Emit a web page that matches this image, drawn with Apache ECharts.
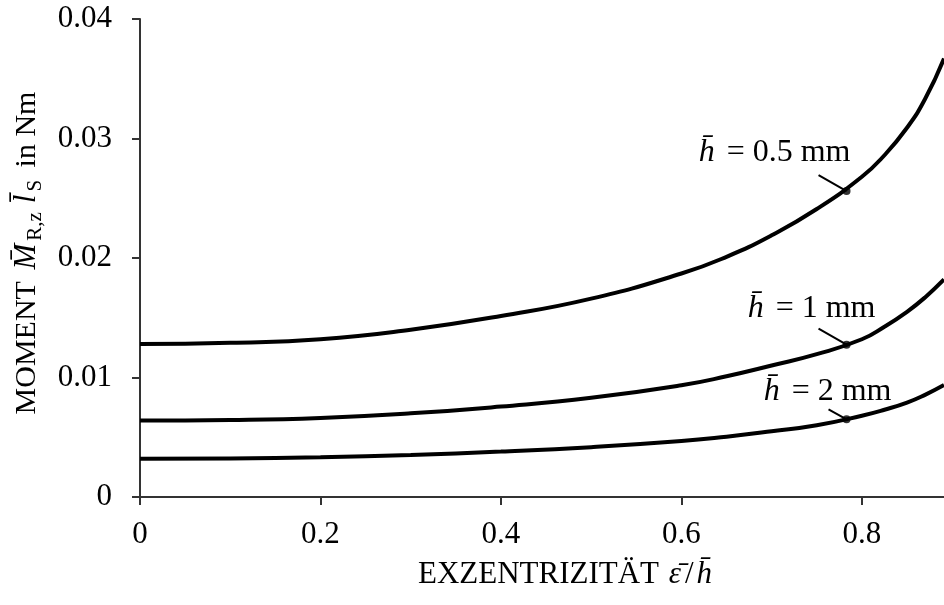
<!DOCTYPE html>
<html>
<head>
<meta charset="utf-8">
<script src="https://cdn.jsdelivr.net/npm/echarts@6/dist/echarts.min.js"></script>
<style>
  html, body { margin: 0; padding: 0; background: #fff; }
  #chart { width: 944px; height: 605px; }
</style>
</head>
<body>
<div id="chart"></div>
<script>
// Exzentrizität eps/h (x values)
const eps = [0, 0.1, 0.2, 0.3, 0.4, 0.5, 0.6, 0.65, 0.7, 0.75, 0.8, 0.825, 0.85, 0.87, 0.891];

// Moment in Nm
const moment05 = [0.0128, 0.0129, 0.0132, 0.0140, 0.01515, 0.0166, 0.0187, 0.0201, 0.0219, 0.0241, 0.0268, 0.0286, 0.0309, 0.0333, 0.0367];
const moment1  = [0.0064, 0.00645, 0.00662, 0.0070, 0.00757, 0.0083, 0.00935, 0.0101, 0.0110, 0.01195, 0.0132, 0.01425, 0.0155, 0.0167, 0.0182];
const moment2  = [0.0032, 0.00323, 0.00333, 0.00352, 0.0038, 0.00417, 0.00468, 0.00505, 0.0055, 0.0060, 0.0068, 0.0073, 0.0079, 0.00855, 0.00937];

const xTicks = [0, 0.2, 0.4, 0.6, 0.8];

// labelled points on the curves
const markEps = 0.783;
const markValues = [0.0256, 0.01275, 0.0065];
const markLabels = ['0.5', '1', '2'];

const FONT = '"Liberation Serif", "DejaVu Serif", serif';
const chart = echarts.init(document.getElementById('chart'));

const pairs = ys => eps.map((x, i) => [x, ys[i]]);

const lineSeries = [moment05, moment1, moment2].map(ys => ({
  type: 'line',
  data: pairs(ys),
  smooth: 0.5,
  showSymbol: false,
  lineStyle: { color: '#000', width: 4 },
  silent: true
}));

chart.setOption({
  animation: false,
  backgroundColor: '#fff',
  grid: { left: 140, right: 0, top: 19, bottom: 108 },
  xAxis: {
    type: 'value',
    min: 0,
    max: 0.891,
    name: 'EXZENTRIZITÄT {i|ε̄}{t|/}{i|h̄}',
    nameLocation: 'middle',
    nameGap: 62,
    nameTextStyle: {
      fontFamily: FONT, fontSize: 31, color: '#000', padding: [0, 0, 0, 48],
      rich: {
        i: { fontFamily: FONT, fontSize: 31, fontStyle: 'italic', color: '#000', padding: [0, 2, 0, 2] },
        t: { fontFamily: FONT, fontSize: 31, color: '#000', padding: [0, 1, 0, 2] }
      }
    },
    axisLine: { lineStyle: { color: '#333', width: 2 } },
    axisTick: { customValues: xTicks, length: 8, lineStyle: { color: '#333', width: 2 } },
    axisLabel: {
      customValues: xTicks,
      margin: 22,
      fontFamily: FONT, fontSize: 31, color: '#000',
      formatter: v => (v === 0 ? '0' : v.toFixed(1))
    },
    splitLine: { show: false }
  },
  yAxis: {
    type: 'value',
    min: 0,
    max: 0.04,
    interval: 0.01,
    name: '{t|MOMENT }{i|M̄}{s|R,z}{i|l̄}{s|S}{t| in Nm}',
    nameLocation: 'middle',
    nameRotate: 90,
    nameGap: 94,
    nameTextStyle: {
      padding: [0, 0, 0, 10],
      rich: {
        t: { fontFamily: FONT, fontSize: 30, color: '#000', lineHeight: 38 },
        i: { fontFamily: FONT, fontSize: 31, fontStyle: 'italic', color: '#000', lineHeight: 38, padding: [0, 2, 0, 4] },
        s: { fontFamily: FONT, fontSize: 21, color: '#000', lineHeight: 20, verticalAlign: 'bottom', padding: [0, 5, 0, 1] }
      }
    },
    axisLine: { show: true, lineStyle: { color: '#333', width: 2 } },
    axisTick: { show: true, length: 8, lineStyle: { color: '#333', width: 2 } },
    axisLabel: {
      margin: 28,
      fontFamily: FONT, fontSize: 31, color: '#000',
      formatter: v => (v === 0 ? '0' : v.toFixed(2))
    },
    splitLine: { show: false }
  },
  series: lineSeries.concat([{
    type: 'scatter',
    data: markValues.map(v => [markEps, v]),
    symbolSize: 8,
    itemStyle: { color: '#000' },
    silent: true,
    z: 5
  }])
});

// annotations: leader line + label, placed relative to the marked points
const leader = [[-28, -16], [-28, -16], [-18, -10]];
const textOff = [[-72, -38], [-35, -36], [-19, -28]];
const graphics = [];
markValues.forEach((v, i) => {
  const p = chart.convertToPixel({ gridIndex: 0 }, [markEps, v]);
  graphics.push({
    type: 'line',
    shape: { x1: p[0] + leader[i][0], y1: p[1] + leader[i][1], x2: p[0], y2: p[1] },
    style: { stroke: '#000', lineWidth: 2 },
    z: 10
  });
  graphics.push({
    type: 'text',
    x: p[0] + textOff[i][0],
    y: p[1] + textOff[i][1],
    style: {
      text: '{i|h̄}{t| = ' + markLabels[i] + ' mm}',
      align: 'center',
      verticalAlign: 'middle',
      fill: '#000',
      rich: {
        i: { fontFamily: FONT, fontSize: 32, fontStyle: 'italic', fill: '#000', padding: [0, 4, 0, 0] },
        t: { fontFamily: FONT, fontSize: 32, fill: '#000' }
      }
    },
    z: 10
  });
});
chart.setOption({ graphic: graphics });
</script>
</body>
</html>
